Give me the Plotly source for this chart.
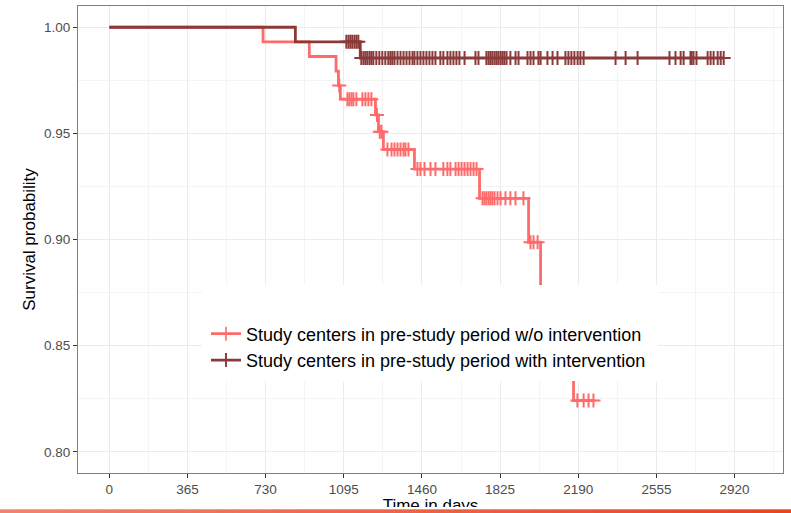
import numpy as np
import plotly.graph_objects as go

# ---- Kaplan-Meier data (time in days, survival probability after each event) ----
GROUP_NAMES = [
    "Study centers in pre-study period w/o intervention",
    "Study centers in pre-study period with intervention",
]
GROUP_COLORS = ["#FF6B6B", "#8B3A3A"]

# group 1: without intervention
wo_event_time = [0, 718, 934, 1059, 1070, 1079, 1243, 1257, 1280, 1425, 1729, 1958, 2014, 2168]
wo_event_surv = [1.0, 0.9931, 0.9862, 0.9793, 0.9725, 0.9661, 0.9587, 0.9508, 0.9424,
                 0.9332, 0.9194, 0.8987, 0.8615, 0.8241]
wo_censor_time = [1074,
                  1112, 1121, 1131, 1140, 1154, 1182, 1196, 1210, 1224,
                  1250, 1263, 1271,
                  1299, 1318, 1332, 1346, 1360, 1374, 1383, 1397,
                  1439, 1453, 1472, 1500, 1523, 1560, 1579, 1593, 1617, 1631, 1645,
                  1659, 1673, 1687, 1701, 1715,
                  1743, 1752, 1761, 1771, 1780, 1789, 1799, 1813, 1827, 1850, 1873,
                  1897, 1934,
                  1967, 1981, 2000,
                  2186, 2215, 2238, 2261]

# group 2: with intervention
wi_event_time = [0, 869, 1172]
wi_event_surv = [1.0, 0.9931, 0.9855]
wi_censor_time = [1107, 1117, 1126, 1135, 1145, 1154, 1163,
                  1177, 1187, 1196, 1205, 1215, 1224, 1233, 1247, 1261, 1275, 1289,
                  1303, 1313, 1322, 1332, 1346, 1360, 1374, 1388, 1402, 1416, 1425,
                  1439, 1453, 1467, 1481, 1495, 1509, 1523,
                  1546, 1560, 1579, 1593, 1607, 1621, 1635, 1659,
                  1710, 1724,
                  1761, 1771, 1780, 1789, 1799, 1808, 1817, 1827, 1836, 1845, 1855,
                  1873, 1897, 1911, 1953, 1967, 1981, 2004, 2014,
                  2046, 2070, 2093,
                  2130, 2144, 2158, 2172, 2187, 2200, 2215,
                  2364, 2411, 2467,
                  2616, 2644, 2668, 2682, 2714, 2719, 2728, 2742,
                  2794, 2808, 2822, 2841, 2855, 2869]

# ---- axes ----
X_TICKS = [0, 365, 730, 1095, 1460, 1825, 2190, 2555, 2920]
Y_TICKS = [0.80, 0.85, 0.90, 0.95, 1.00]
X_RANGE = [-146, 3146]
Y_RANGE = [0.79, 1.01]
X_TITLE = "Time in days"
Y_TITLE = "Survival probability"

FONT = "Liberation Sans, Arial, Helvetica, sans-serif"
W, H = 791, 513
M = dict(l=78, r=8, t=6, b=0)
PANEL_BOTTOM = 473          # lower edge of the survival panel, in page pixels
PW = W - M["l"] - M["r"]
PH = H - M["t"] - M["b"]    # full paper height below the top margin


def px_x(px):
    return (px - M["l"]) / PW


def px_y(py):
    return (H - M["b"] - py) / PH


def km_trace(ev_t, ev_s, cens_t, name, color):
    """Step curve through events and censorings; '+' marks only at censorings."""
    ev_t = np.asarray(ev_t, float)
    ev_s = np.asarray(ev_s, float)
    cens_t = np.asarray(cens_t, float)
    cens_s = ev_s[np.searchsorted(ev_t, cens_t, side="right") - 1]
    t = np.concatenate([ev_t, cens_t])
    s = np.concatenate([ev_s, cens_s])
    is_c = np.concatenate([np.zeros(len(ev_t), bool), np.ones(len(cens_t), bool)])
    order = np.lexsort((is_c, t))
    t, s, is_c = t[order], s[order], is_c[order]
    return go.Scatter(
        x=t, y=s, name=name, legendgroup=name,
        mode="lines+markers",
        line=dict(color=color, width=2.8, shape="hv"),
        marker=dict(symbol="cross-thin", size=10, color=color,
                    line=dict(color=color, width=np.where(is_c, 2.0, 0.0))),
        hoverinfo="x+y+name",
    )


fig = go.Figure()
fig.add_trace(km_trace(wo_event_time, wo_event_surv, wo_censor_time, GROUP_NAMES[0], GROUP_COLORS[0]))
fig.add_trace(km_trace(wi_event_time, wi_event_surv, wi_censor_time, GROUP_NAMES[1], GROUP_COLORS[1]))

# x-axis title placed in a strip subplot under the panel so the footer band can overlap it;
# the strip axis runs 0 (page bottom) .. 1 (panel bottom)
strip_h = H - PANEL_BOTTOM
fig.add_trace(go.Scatter(
    x=[0.5], y=[(H - 506.8) / strip_h], xaxis="x2", yaxis="y2",
    mode="text", text=[X_TITLE], textposition="middle center",
    textfont=dict(family=FONT, size=17, color="#000000"),
    cliponaxis=False, showlegend=False, hoverinfo="skip",
))

shapes = []
# white legend panel drawn over the curves
shapes.append(dict(type="rect", xref="paper", yref="paper", layer="above",
                   x0=px_x(202), x1=px_x(658), y0=px_y(381), y1=px_y(285),
                   fillcolor="white", line=dict(width=0)))
# white band + gradient strip along the bottom edge
shapes.append(dict(type="rect", xref="paper", yref="paper", layer="above",
                   x0=px_x(0), x1=px_x(W), y0=px_y(H + 2), y1=px_y(507),
                   fillcolor="white", line=dict(width=0)))
c0 = np.array([241, 132, 108])
c1 = np.array([233, 68, 38])
nseg = 40
for i in range(nseg):
    f = i / (nseg - 1)
    c = (c0 + (c1 - c0) * f).round().astype(int)
    shapes.append(dict(type="rect", xref="paper", yref="paper", layer="above",
                       x0=px_x(W * i / nseg), x1=px_x(W * (i + 1) / nseg + 0.6),
                       y0=px_y(H + 2), y1=px_y(509.3),
                       fillcolor=f"rgb({c[0]},{c[1]},{c[2]})", line=dict(width=0)))

axis_common = dict(
    showline=True, mirror=True, linecolor="#7F7F7F", linewidth=1.2,
    ticks="outside", ticklen=4, tickwidth=1, tickcolor="#333333",
    showgrid=True, gridcolor="#EBEBEB", gridwidth=1.1,
    zeroline=False,
    tickfont=dict(family=FONT, size=13.5, color="#4D4D4D"),
)

fig.update_layout(
    width=W, height=H, margin=dict(**M, pad=0),
    paper_bgcolor="white", plot_bgcolor="white",
    font=dict(family=FONT, color="#000000"),
    shapes=shapes,
    showlegend=True,
    legend=dict(
        x=px_x(206), y=px_y(315.5), xanchor="left", yanchor="top",
        xref="paper", yref="paper",
        bgcolor="rgba(0,0,0,0)", borderwidth=0,
        font=dict(family=FONT, size=18, color="#000000"),
        traceorder="normal",
    ),
    xaxis=dict(range=X_RANGE, tickvals=X_TICKS, ticktext=[str(v) for v in X_TICKS],
               anchor="y",
               minor=dict(tickvals=[v + 182.5 for v in [-365] + X_TICKS],
                          showgrid=True, gridcolor="#F4F4F4", gridwidth=0.6, ticks=""),
               **axis_common),
    yaxis=dict(range=Y_RANGE, tickvals=Y_TICKS, ticktext=[f"{v:.2f}" for v in Y_TICKS],
               domain=[px_y(PANEL_BOTTOM), 1],
               minor=dict(tickvals=[0.775, 0.825, 0.875, 0.925, 0.975, 1.025],
                          showgrid=True, gridcolor="#F4F4F4", gridwidth=0.6, ticks=""),
               title=dict(text=Y_TITLE, font=dict(family=FONT, size=17, color="#000000"),
                          standoff=3),
               **axis_common),
    xaxis2=dict(domain=[0, 1], range=[0, 1], anchor="y2", visible=False, fixedrange=True),
    yaxis2=dict(domain=[0, px_y(PANEL_BOTTOM)], range=[0, 1],
                anchor="x2", visible=False, fixedrange=True),
)

fig.write_html("out.html")
